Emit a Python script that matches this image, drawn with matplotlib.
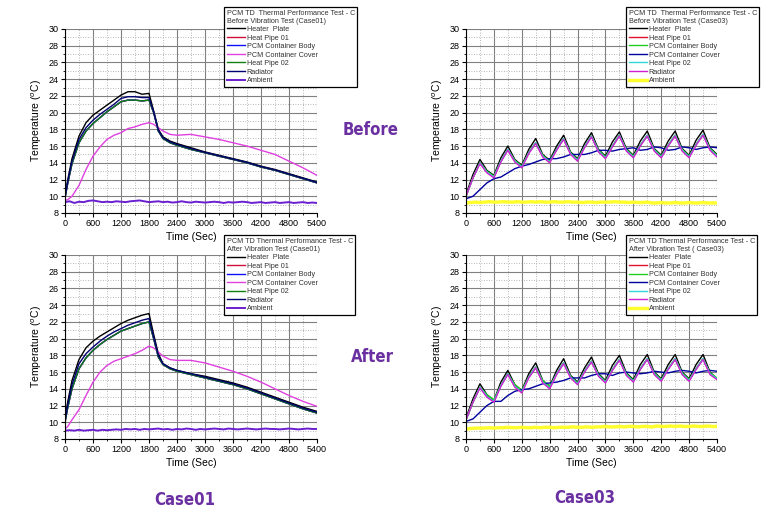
import numpy as np
import matplotlib.pyplot as plt
from matplotlib.ticker import MultipleLocator

plt.rcParams['font.family'] = ['Liberation Sans', 'DejaVu Sans']

# ---- Case01 data (time grid in seconds) ----
t01 = [0, 60, 150, 300, 450, 600, 750, 900, 1050, 1200, 1350, 1500, 1650, 1800, 1900,
       2000, 2100, 2250, 2400, 2700, 3000, 3300, 3600, 3900, 4200, 4500, 4800, 5100, 5400]

b01_heater = [10.0, 12.0, 14.5, 17.2, 18.8, 19.7, 20.3, 20.9, 21.5, 22.1, 22.5, 22.5, 22.2, 22.3, 20.2,
              18.0, 17.1, 16.6, 16.3, 15.8, 15.3, 14.9, 14.5, 14.1, 13.6, 13.2, 12.7, 12.2, 11.7]
b01_body = [9.8, 11.6, 13.9, 16.4, 17.8, 18.7, 19.4, 20.1, 20.7, 21.3, 21.5, 21.5, 21.4, 21.5, 20.0,
            17.8, 16.9, 16.4, 16.1, 15.6, 15.2, 14.8, 14.4, 14.0, 13.5, 13.1, 12.6, 12.1, 11.6]
b01_radiator = [9.9, 11.8, 14.2, 16.8, 18.2, 19.1, 19.8, 20.4, 21.0, 21.7, 21.9, 21.9, 21.8, 21.8, 20.1,
                17.9, 17.0, 16.5, 16.2, 15.7, 15.25, 14.85, 14.45, 14.05, 13.55, 13.15, 12.65, 12.15, 11.65]
b01_cover = [9.5, 9.6, 10.0, 11.3, 13.2, 14.8, 15.9, 16.8, 17.3, 17.6, 18.1, 18.3, 18.6, 18.8, 18.6,
             18.2, 17.8, 17.4, 17.3, 17.4, 17.1, 16.8, 16.4, 16.0, 15.5, 15.0, 14.2, 13.4, 12.5]

a01_heater = [10.5, 12.5, 15.0, 17.5, 18.9, 19.7, 20.3, 20.8, 21.3, 21.8, 22.2, 22.5, 22.8, 23.0, 20.5,
              18.2, 17.0, 16.5, 16.2, 15.8, 15.5, 15.1, 14.7, 14.2, 13.6, 13.0, 12.4, 11.8, 11.3]
a01_body = [10.0, 11.8, 14.0, 16.4, 17.7, 18.6, 19.3, 19.9, 20.4, 20.9, 21.2, 21.5, 21.8, 22.0, 20.0,
            17.8, 16.9, 16.4, 16.1, 15.7, 15.3, 14.9, 14.5, 14.0, 13.4, 12.8, 12.2, 11.6, 11.1]
a01_radiator = [10.2, 12.1, 14.5, 17.0, 18.2, 19.0, 19.7, 20.3, 20.8, 21.2, 21.6, 21.9, 22.2, 22.4, 20.2,
                18.0, 17.0, 16.5, 16.2, 15.8, 15.4, 15.0, 14.6, 14.1, 13.5, 12.9, 12.3, 11.7, 11.2]
a01_cover = [9.2, 9.5, 10.3, 11.5, 13.2, 14.8, 16.0, 16.8, 17.3, 17.6, 17.9, 18.2, 18.6, 19.1, 18.9,
             18.4, 17.9, 17.5, 17.4, 17.4, 17.1, 16.6, 16.1, 15.5, 14.8, 14.0, 13.2, 12.5, 11.9]

# ambient, one reading every 100 s
t_amb = np.arange(0, 5401, 100)
b01_amb = [9.3, 9.4, 9.2, 9.35, 9.3, 9.45, 9.5, 9.4, 9.3, 9.35, 9.3, 9.4, 9.35, 9.3, 9.4, 9.45, 9.5, 9.4, 9.3,
           9.35, 9.4, 9.3, 9.35, 9.25, 9.3, 9.4, 9.3, 9.25, 9.35, 9.3, 9.25, 9.3, 9.35, 9.3, 9.2, 9.3, 9.25,
           9.3, 9.35, 9.3, 9.2, 9.25, 9.3, 9.2, 9.25, 9.3, 9.2, 9.25, 9.3, 9.2, 9.25, 9.3, 9.2, 9.25, 9.2]
a01_amb = [9.0, 9.05, 9.0, 9.1, 9.0, 9.05, 9.1, 9.0, 9.1, 9.05, 9.1, 9.15, 9.1, 9.2, 9.15, 9.2, 9.1, 9.2, 9.15,
           9.2, 9.25, 9.15, 9.2, 9.1, 9.2, 9.15, 9.25, 9.2, 9.1, 9.2, 9.15, 9.2, 9.25, 9.2, 9.15, 9.25, 9.2,
           9.15, 9.2, 9.25, 9.2, 9.15, 9.2, 9.25, 9.2, 9.2, 9.15, 9.2, 9.25, 9.2, 9.15, 9.2, 9.25, 9.2, 9.2]

# ---- Case03 data ----
t03 = list(range(0, 5401, 150))

b03_heater = [10.2, 12.6, 14.4, 13.1, 12.5, 14.6, 16.0, 14.4, 13.7, 15.6, 16.9, 15.0, 14.3, 16.0, 17.3,
              15.3, 14.5, 16.3, 17.6, 15.6, 14.8, 16.5, 17.7, 15.7, 14.9, 16.6, 17.8, 15.7, 14.9, 16.6,
              17.8, 15.7, 14.9, 16.7, 17.9, 15.8, 15.0]
b03_hp01 = [10.0, 12.2, 14.0, 12.9, 12.3, 14.2, 15.6, 14.2, 13.5, 15.2, 16.4, 14.8, 14.1, 15.6, 16.9,
            15.1, 14.3, 15.9, 17.2, 15.4, 14.6, 16.0, 17.3, 15.5, 14.7, 16.1, 17.3, 15.5, 14.7, 16.1,
            17.3, 15.5, 14.7, 16.2, 17.4, 15.6, 14.8]
b03_body = [10.0, 12.2, 14.0, 13.0, 12.4, 14.2, 15.6, 14.3, 13.6, 15.2, 16.4, 14.9, 14.2, 15.6, 16.9,
            15.2, 14.4, 15.9, 17.2, 15.5, 14.7, 16.0, 17.3, 15.6, 14.8, 16.1, 17.3, 15.6, 14.8, 16.1,
            17.3, 15.6, 14.8, 16.2, 17.4, 15.7, 14.9]
b03_radiator = [10.0, 12.2, 13.9, 12.8, 12.2, 14.1, 15.5, 14.1, 13.4, 15.1, 16.3, 14.7, 14.0, 15.5, 16.8,
                15.0, 14.2, 15.8, 17.1, 15.3, 14.5, 15.9, 17.2, 15.4, 14.6, 16.0, 17.2, 15.4, 14.6, 16.0,
                17.2, 15.4, 14.6, 16.1, 17.3, 15.5, 14.7]
b03_cover = [9.7, 10.0, 10.8, 11.6, 12.1, 12.3, 12.8, 13.3, 13.6, 13.8, 14.1, 14.4, 14.5, 14.5, 14.7,
             15.0, 15.0, 15.0, 15.2, 15.5, 15.5, 15.4, 15.6, 15.7, 15.8, 15.5, 15.6, 15.9, 15.8, 15.5,
             15.6, 15.9, 15.8, 15.6, 15.8, 15.9, 15.8]

a03_heater = [10.5, 12.8, 14.6, 13.3, 12.6, 14.8, 16.2, 14.5, 13.8, 15.8, 17.1, 15.0, 14.3, 16.2, 17.6,
              15.6, 14.8, 16.5, 17.8, 15.8, 15.0, 16.8, 18.0, 15.9, 15.1, 16.9, 18.1, 16.0, 15.2, 16.9,
              18.1, 16.0, 15.2, 16.9, 18.1, 16.0, 15.2]
a03_hp01 = [10.3, 12.4, 14.2, 13.1, 12.5, 14.4, 15.8, 14.3, 13.6, 15.4, 16.6, 14.8, 14.1, 15.8, 17.1,
            15.4, 14.6, 16.1, 17.3, 15.6, 14.8, 16.3, 17.5, 15.7, 14.9, 16.4, 17.6, 15.8, 15.0, 16.4,
            17.6, 15.8, 15.0, 16.4, 17.6, 15.8, 15.2]
a03_body = [10.3, 12.4, 14.2, 13.3, 12.7, 14.4, 15.8, 14.5, 13.8, 15.4, 16.6, 15.0, 14.3, 15.8, 17.1,
            15.5, 14.7, 16.1, 17.3, 15.7, 14.9, 16.3, 17.5, 15.8, 15.0, 16.4, 17.6, 15.9, 15.1, 16.4,
            17.6, 15.9, 15.1, 16.4, 17.6, 15.9, 15.3]
a03_radiator = [10.3, 12.4, 14.1, 13.0, 12.4, 14.3, 15.7, 14.2, 13.5, 15.3, 16.5, 14.7, 14.0, 15.7, 17.0,
                15.3, 14.5, 16.0, 17.2, 15.5, 14.7, 16.2, 17.4, 15.6, 14.8, 16.3, 17.5, 15.7, 14.9, 16.3,
                17.5, 15.7, 14.9, 16.3, 17.5, 15.7, 15.1]
a03_cover = [10.1, 10.4, 11.2, 12.0, 12.5, 12.5, 13.2, 13.7, 13.9, 14.0, 14.3, 14.6, 14.7, 14.8, 15.0,
             15.3, 15.3, 15.3, 15.6, 15.8, 15.8, 15.6, 15.9, 16.0, 15.9, 15.8, 15.9, 16.1, 16.0, 15.9,
             16.1, 16.2, 16.1, 15.9, 16.1, 16.2, 16.1]

b03_amb = [9.2, 9.25, 9.3, 9.25, 9.3, 9.35, 9.3, 9.3, 9.35, 9.3, 9.3, 9.35, 9.3, 9.3, 9.35, 9.3, 9.35, 9.3, 9.3,
           9.35, 9.3, 9.3, 9.35, 9.3, 9.3, 9.25, 9.3, 9.3, 9.25, 9.3, 9.3, 9.3, 9.35, 9.3, 9.3, 9.25, 9.3,
           9.25, 9.25, 9.3, 9.2, 9.2, 9.25, 9.2, 9.2, 9.25, 9.2, 9.2, 9.25, 9.2, 9.2, 9.25, 9.2, 9.2, 9.2]
a03_amb = [9.2, 9.25, 9.3, 9.3, 9.3, 9.35, 9.3, 9.35, 9.35, 9.4, 9.35, 9.35, 9.4, 9.35, 9.35, 9.4, 9.35, 9.4, 9.4,
           9.35, 9.4, 9.4, 9.4, 9.45, 9.4, 9.4, 9.45, 9.4, 9.45, 9.45, 9.5, 9.45, 9.45, 9.5, 9.45, 9.5, 9.5,
           9.45, 9.5, 9.5, 9.45, 9.55, 9.5, 9.5, 9.55, 9.5, 9.55, 9.5, 9.5, 9.55, 9.5, 9.5, 9.55, 9.5, 9.5]

labels = ["Heater  Plate", "Heat Pipe 01", "PCM Container Body", "PCM Container Cover",
          "Heat Pipe 02", "Radiator", "Ambient"]

colors01 = ["black", "#d0103a", "#1010ff", "#e040e0", "#108010", "#000070", "#6a1fd0"]
colors03 = ["black", "#e01030", "#20d020", "#0000a0", "#30d8d8", "#d020d0", "#ffff30"]

fig = plt.figure(figsize=(7.71, 5.19), dpi=100)

W, H = 771, 519
def axes_px(x0, y0, x1, y1):
    return fig.add_axes([x0 / W, 1 - y1 / H, (x1 - x0) / W, (y1 - y0) / H])

def style(ax):
    ax.set_xlim(0, 5400)
    ax.set_ylim(8, 30)
    ax.xaxis.set_major_locator(MultipleLocator(600))
    ax.xaxis.set_minor_locator(MultipleLocator(300))
    ax.yaxis.set_major_locator(MultipleLocator(2))
    ax.yaxis.set_minor_locator(MultipleLocator(1))
    ax.grid(which='major', color='#808080', lw=0.8, ls='-')
    ax.grid(which='minor', color='#a0a0a0', lw=0.6, ls=(0, (1, 2)))
    ax.set_axisbelow(True)
    ax.spines['top'].set_visible(False)
    ax.spines['right'].set_visible(False)
    ax.tick_params(which='major', direction='out', length=3, width=0.8, labelsize=6.5, pad=1.5)
    ax.tick_params(which='minor', direction='out', length=1.5, width=0.6)
    ax.set_xlabel("Time (Sec)", fontsize=7.5, labelpad=3)
    ax.set_ylabel("Temperature ($^o$C)", fontsize=7.5, labelpad=3)

def legend(ax, title, anchor):
    h, l = ax.get_legend_handles_labels()
    leg = fig.legend(h, l, title=title, loc='upper left', bbox_to_anchor=anchor,
                     fontsize=5.2, title_fontsize=5.2, alignment='left', frameon=True,
                     fancybox=False, edgecolor='black', framealpha=1, labelspacing=0.2,
                     handlelength=2.6, handletextpad=0.2, borderpad=0.35, borderaxespad=0)
    leg.get_frame().set_linewidth(0.9)
    for t in leg.get_texts():
        t.set_color('#333333')
    leg.get_title().set_color('#333333')

# Case01 before
ax = axes_px(65, 29, 317, 213)
series = [b01_heater, b01_body, b01_body, b01_cover, b01_body, b01_radiator]
for y, c, lab in zip(series, colors01, labels):
    ax.plot(t01, y, color=c, lw=1.0, label=lab)
ax.plot(t_amb, b01_amb, color=colors01[6], lw=1.4, label=labels[6])
style(ax)
legend(ax, "PCM TD  Thermal Performance Test - C\nBefore Vibration Test (Case01)", (224 / W, 1 - 7 / H))

# Case03 before
ax = axes_px(466, 29, 717, 213)
series = [b03_heater, b03_hp01, b03_body, b03_cover, b03_hp01, b03_radiator]
for y, c, lab in zip(series, colors03, labels):
    ax.plot(t03, y, color=c, lw=1.0, label=lab)
ax.plot(t_amb, b03_amb, color=colors03[6], lw=2.5, label=labels[6])
style(ax)
legend(ax, "PCM TD  Thermal Performance Test - C\nBefore Vibration Test (Case03)", (626 / W, 1 - 7 / H))

# Case01 after
ax = axes_px(65, 255, 317, 439)
series = [a01_heater, a01_body, a01_body, a01_cover, a01_body, a01_radiator]
for y, c, lab in zip(series, colors01, labels):
    ax.plot(t01, y, color=c, lw=1.0, label=lab)
ax.plot(t_amb, a01_amb, color=colors01[6], lw=1.4, label=labels[6])
style(ax)
legend(ax, "PCM TD Thermal Performance Test - C\nAfter Vibration Test (Case01)", (224 / W, 1 - 235 / H))

# Case03 after
ax = axes_px(466, 255, 717, 439)
series = [a03_heater, a03_hp01, a03_body, a03_cover, a03_hp01, a03_radiator]
for y, c, lab in zip(series, colors03, labels):
    ax.plot(t03, y, color=c, lw=1.0, label=lab)
ax.plot(t_amb, a03_amb, color=colors03[6], lw=2.5, label=labels[6])
style(ax)
legend(ax, "PCM TD Thermal Performance Test - C\nAfter Vibration Test ( Case03)", (626 / W, 1 - 235 / H))

# purple annotations
purple = "#6a2fa0"
kw = dict(color=purple, fontsize=12, fontweight='bold', fontfamily='DejaVu Sans',
          fontstretch='condensed', ha='center', va='center')
fig.text(371 / W, 1 - 130 / H, "Before", **kw)
fig.text(372 / W, 1 - 357 / H, "After", **kw)
fig.text(185 / W, 1 - 500 / H, "Case01", **kw)
fig.text(585 / W, 1 - 498 / H, "Case03", **kw)

fig.savefig("out.png", dpi=100)
